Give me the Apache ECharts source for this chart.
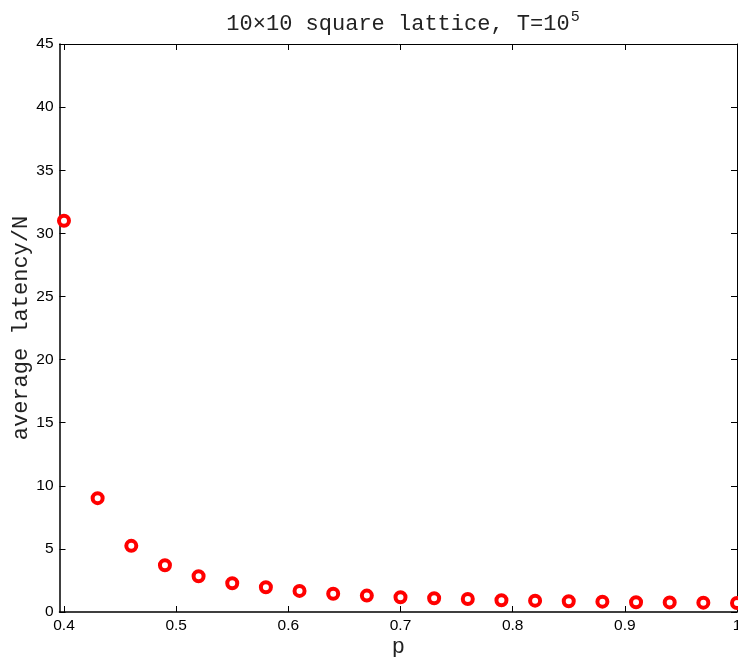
<!DOCTYPE html>
<html>
<head>
<meta charset="utf-8">
<script src="https://cdn.jsdelivr.net/npm/echarts@6/dist/echarts.min.js"></script>
<style>html,body{margin:0;padding:0;background:#fff;}#c{width:738px;height:657px;}</style>
</head>
<body>
<div id="c"></div>
<script>
const pValues = [0.40,0.43,0.46,0.49,0.52,0.55,0.58,0.61,0.64,0.67,0.70,0.73,0.76,0.79,0.82,0.85,0.88,0.91,0.94,0.97,1.00];
const latency = [31.0,9.02,5.24,3.70,2.83,2.28,1.96,1.67,1.45,1.30,1.17,1.09,1.03,0.93,0.90,0.85,0.82,0.77,0.76,0.74,0.71];
const xTicks = [0.4,0.5,0.6,0.7,0.8,0.9,1.0];
const yTicks = [0,5,10,15,20,25,30,35,40,45];

const chart = echarts.init(document.getElementById('c'), null, {renderer:'canvas'});
const tickFont = {fontFamily:'Liberation Sans, Arial, sans-serif', fontSize:15.5, color:'#000'};
const nameFont = {fontFamily:'Liberation Mono, Courier New, monospace', fontSize:22, color:'#222', fontWeight:'normal'};
const xMin = 0.396, xMax = 1.0, yMin = 0, yMax = 45;

chart.setOption({
  backgroundColor:'#fff',
  animation:false,
  title:{
    text:'{m|10×10 square lattice, T=10}{s|5}',
    left:398, top:0, textAlign:'center',
    textStyle:{
      fontWeight:'normal',
      rich:{
        m:{fontFamily:'Liberation Mono, Courier New, monospace', fontSize:22, fontWeight:'normal', color:'#222', lineHeight:30, verticalAlign:'bottom'},
        s:{fontFamily:'Liberation Mono, Courier New, monospace', fontSize:15, fontWeight:'normal', color:'#222', lineHeight:22, verticalAlign:'top', padding:[5,0,0,1]}
      }
    }
  },
  grid:{left:59.5, right:1, top:44, bottom:45, containLabel:false, outerBoundsMode:'none'},
  xAxis:[{
    type:'value', min:xMin, max:xMax, position:'bottom',
    name:'p', nameLocation:'middle', nameGap:24, nameMoveOverlap:false, nameTextStyle:nameFont,
    axisLine:{show:true, onZero:false, lineStyle:{color:'#000', width:1.5}},
    axisTick:{show:true, inside:true, length:6, customValues:xTicks, lineStyle:{color:'#000'}},
    axisLabel:Object.assign({show:true, margin:6, customValues:xTicks, formatter:v=>String(+(+v).toFixed(1))}, tickFont),
    splitLine:{show:false}
  },{
    type:'value', min:xMin, max:xMax, position:'top',
    axisLine:{show:true, onZero:false, lineStyle:{color:'#000', width:1}},
    axisTick:{show:true, inside:true, length:6, customValues:xTicks, lineStyle:{color:'#000'}},
    axisLabel:{show:false}, splitLine:{show:false}
  }],
  yAxis:[{
    type:'value', min:yMin, max:yMax, interval:5, position:'left',
    name:'average latency/N', nameLocation:'middle', nameGap:27, nameMoveOverlap:false, nameRotate:90, nameTextStyle:nameFont,
    axisLine:{show:true, onZero:false, lineStyle:{color:'#000', width:1.5}},
    axisTick:{show:true, inside:true, length:6, lineStyle:{color:'#000'}},
    axisLabel:Object.assign({show:true, margin:6}, tickFont),
    splitLine:{show:false}
  },{
    type:'value', min:yMin, max:yMax, interval:5, position:'right',
    axisLine:{show:true, onZero:false, lineStyle:{color:'#000', width:1}},
    axisTick:{show:true, inside:true, length:6, lineStyle:{color:'#000'}},
    axisLabel:{show:false}, splitLine:{show:false}
  }],
  series:[{
    type:'scatter',
    xAxisIndex:0, yAxisIndex:0,
    data:pValues.map((p,i)=>[p, latency[i]]),
    symbol:'circle', symbolSize:10,
    itemStyle:{color:'#fff', borderColor:'#ff0000', borderWidth:4, opacity:1},
    clip:false
  }]
});
</script>
</body>
</html>
